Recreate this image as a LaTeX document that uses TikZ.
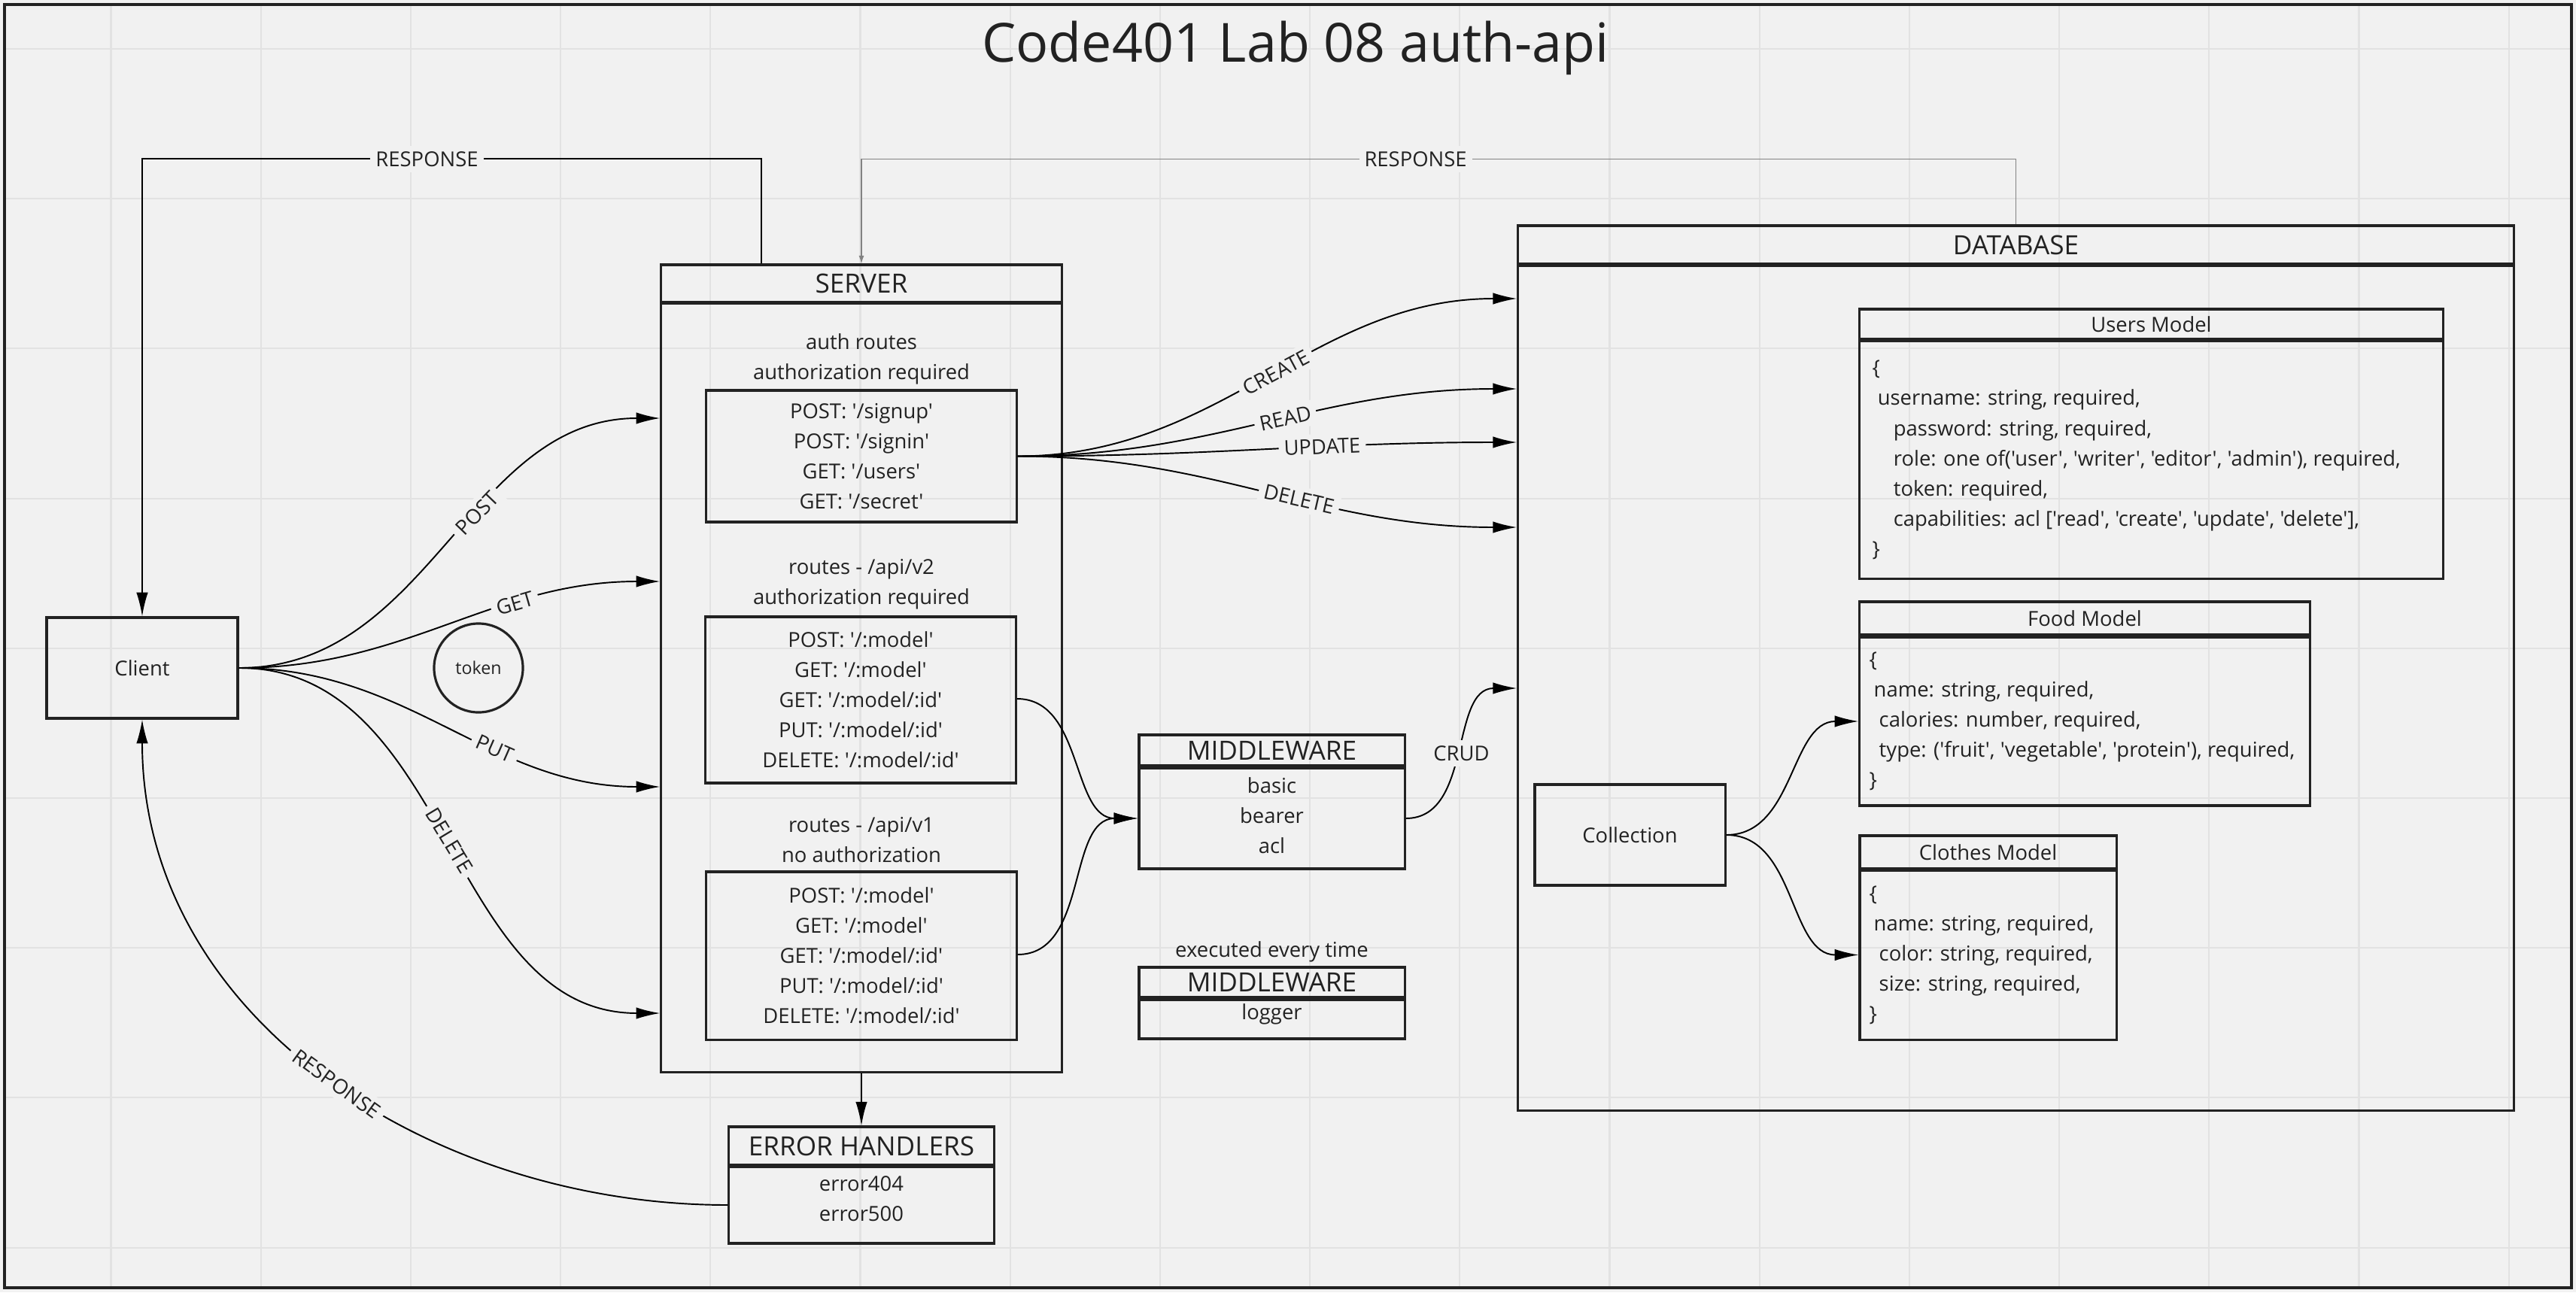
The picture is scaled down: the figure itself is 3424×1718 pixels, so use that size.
\documentclass[tikz,border=0pt]{standalone}
\usepackage{fontspec}
\newfontfamily\osans{Open Sans}
\usetikzlibrary{arrows.meta}
\definecolor{bg}{RGB}{241,241,241}
\definecolor{gridc}{RGB}{226,226,226}
\definecolor{ink}{RGB}{34,34,34}
\definecolor{faint}{RGB}{130,130,130}
\newcommand{\txtfont}{\osans\fontsize{7.8pt}{11.4pt}\selectfont}
\newcommand{\hdrfont}{\osans\fontsize{10pt}{12pt}\selectfont}
\newcommand{\ttlfont}{\osans\fontsize{20.4pt}{24pt}\selectfont}
\tikzset{
  box/.style={draw=ink, line width=0.9pt, inner sep=0pt, align=center, text=ink, font=\txtfont},
  hdr/.style={box, font=\hdrfont},
  txt/.style={font=\txtfont, align=center, inner sep=0pt, text=ink},
  code/.style={font=\txtfont, align=left, inner sep=0pt, anchor=west, text=ink},
  lbl/.style={font=\txtfont, fill=bg, inner sep=2pt, text=ink},
  link/.style={draw=black, line width=0.55pt, -{Latex[length=9pt,width=4.4pt]}},
  glink/.style={draw=faint, line width=0.35pt, -{Latex[length=3pt,width=2pt]}},
}

\begin{document}
\begin{tikzpicture}[x=0.01cm,y=-0.01cm]
\useasboundingbox (0,0) rectangle (3424,1718);

%Canvas and grid
\fill[bg] (0,0) rectangle (3424,1718);
\foreach \k in {0,...,16} \draw[gridc, line width=0.6pt] ({147.5+199.2*\k},6) -- ({147.5+199.2*\k},1712);
\foreach \k in {0,...,8} \draw[gridc, line width=0.6pt] (6,{65+199.2*\k}) -- (3418,{65+199.2*\k});
%Shape: Frame
\draw[ink, line width=1.1pt] (6,6) rectangle (3418,1712);

% Text Node
\node[font=\ttlfont, text=ink, anchor=base] (title) at (1722,82) {Code401 Lab 08 auth-api};

%Shape: Client
\node[box, minimum width=2.54cm, minimum height=1.34cm] (client) at (189,888) {Client};
%Shape: Circle
\node[box, circle, minimum size=1.18cm, font=\osans\fontsize{6.6pt}{8pt}\selectfont] (token) at (636,888) {token};

%Shape: Server
\node[hdr, minimum width=5.32cm, minimum height=0.50cm] (srvh) at (1145,377) {SERVER};
\node[box, minimum width=5.32cm, minimum height=10.21cm] (srv) at (1145,914.5) {};
% Text Node
\node[txt] (authlbl) at (1145,477) {auth routes\\authorization required};
\node[box, minimum width=4.12cm, minimum height=1.75cm] (auth) at (1145,606.5) {POST: '/signup'\\POST: '/signin'\\GET: '/users'\\GET: '/secret'};
% Text Node
\node[txt] (v2lbl) at (1145,777) {routes - /api/v2\\authorization required};
\node[box, minimum width=4.12cm, minimum height=2.21cm] (v2) at (1144,930.5) {POST: '/:model'\\GET: '/:model'\\GET: '/:model/:id'\\PUT: '/:model/:id'\\DELETE: '/:model/:id'};
% Text Node
\node[txt] (v1lbl) at (1145,1116.5) {routes - /api/v1\\no authorization};
\node[box, minimum width=4.12cm, minimum height=2.23cm] (v1) at (1145,1270.5) {POST: '/:model'\\GET: '/:model'\\GET: '/:model/:id'\\PUT: '/:model/:id'\\DELETE: '/:model/:id'};

%Shape: Error handlers
\node[hdr, minimum width=3.52cm, minimum height=0.51cm] (errh) at (1145,1523.5) {ERROR HANDLERS};
\node[box, minimum width=3.52cm, minimum height=1.02cm] (err) at (1145,1602) {};
\node[txt] (errtxt) at (1145,1594) {error404\\error500};

%Shape: Middleware
\node[hdr, minimum width=3.53cm, minimum height=0.41cm] (mwh) at (1690.5,997.5) {MIDDLEWARE};
\node[box, minimum width=3.53cm, minimum height=1.34cm] (mw) at (1690.5,1088) {};
\node[txt] (mwtxt) at (1690.5,1084) {basic\\bearer\\acl};
% Text Node
\node[txt] (lgnote) at (1690.5,1265) {executed every time};
\node[hdr, minimum width=3.53cm, minimum height=0.40cm] (lgh) at (1690.5,1306) {MIDDLEWARE};
\node[box, minimum width=3.53cm, minimum height=0.52cm] (lg) at (1690.5,1355) {};
\node[txt] (lgtxt) at (1690.5,1348) {logger};

%Shape: Database
\node[hdr, minimum width=13.23cm, minimum height=0.51cm] (dbh) at (2679.5,325.5) {DATABASE};
\node[box, minimum width=13.23cm, minimum height=11.22cm] (db) at (2679.5,915) {};

%Shape: Users Model
\node[hdr, font=\txtfont, minimum width=7.75cm, minimum height=0.40cm] (usrh) at (2859.5,431) {Users Model};
\node[box, minimum width=7.75cm, minimum height=3.15cm] (usr) at (2859.5,611.5) {};
\node[code] (usrtxt) at (2488,611.5) {\{\\\hspace*{2pt}username: string, required,\\\hspace*{8pt}password: string, required,\\\hspace*{8pt}role: one of('user', 'writer', 'editor', 'admin'), required,\\\hspace*{8pt}token: required,\\\hspace*{8pt}capabilities: acl ['read', 'create', 'update', 'delete'],\\\}};

%Shape: Food Model
\node[hdr, font=\txtfont, minimum width=5.98cm, minimum height=0.44cm] (fdh) at (2771,822) {Food Model};
\node[box, minimum width=5.98cm, minimum height=2.24cm] (fd) at (2771,959) {};
\node[code] (fdtxt) at (2484,959) {\{\\\hspace*{1.7pt}name: string, required,\\\hspace*{3.7pt}calories: number, required,\\\hspace*{3.7pt}type: ('fruit', 'vegetable', 'protein'), required,\\\}};

%Shape: Clothes Model
\node[hdr, font=\txtfont, minimum width=3.41cm, minimum height=0.44cm] (clh) at (2642.5,1133) {Clothes Model};
\node[box, minimum width=3.41cm, minimum height=2.25cm] (cl) at (2642.5,1269.5) {};
\node[code] (cltxt) at (2484,1270) {\{\\\hspace*{1.7pt}name: string, required,\\\hspace*{3.7pt}color: string, required,\\\hspace*{3.7pt}size: string, required,\\\}};

%Shape: Collection
\node[box, minimum width=2.53cm, minimum height=1.34cm] (coll) at (2166.5,1110) {Collection};

%Curve Lines: client requests
\draw[link] (client.east) to[out=0,in=180] node[lbl,sloped,pos=.58]{POST} (srv.west |- 0,556);
\draw[link] (client.east) to[out=0,in=180] node[lbl,sloped,pos=.67]{GET} (srv.west |- 0,773);
\draw[link] (client.east) to[out=0,in=180] node[lbl,sloped,pos=.62]{PUT} (srv.west |- 0,1046);
\draw[link] (client.east) to[out=0,in=180] node[lbl,sloped,pos=.5]{DELETE} (srv.west |- 0,1347);

%Straight Lines: responses
\draw[link] ([xshift=-1.33cm]srvh.north) -- ++(0,-139) -| node[lbl,pos=.27]{RESPONSE} (client.north);
\draw[glink] (dbh.north) -- ++(0,-87) -| node[lbl,pos=.26]{RESPONSE} (srvh.north);
\draw[link] (srv.south) -- (errh.north);
%Curve Lines
\draw[link] (err.west) to[out=180,in=270] node[lbl,sloped,pos=.48]{RESPONSE} (client.south);

%Curve Lines: database calls
\draw[link] (auth.east) to[out=0,in=180] node[lbl,sloped,pos=.52]{CREATE} (db.west |- 0,397);
\draw[link] (auth.east) to[out=0,in=180] node[lbl,sloped,pos=.54]{READ} (db.west |- 0,517);
\draw[link] (auth.east) to[out=0,in=180] node[lbl,sloped,pos=.62]{UPDATE} (db.west |- 0,588);
\draw[link] (auth.east) to[out=0,in=180] node[lbl,sloped,pos=.57]{DELETE} (db.west |- 0,701);

%Curve Lines: middleware
\draw[link] (v2.east |- 0,929) to[out=0,in=180] (mw.west);
\draw[link] (v1.east |- 0,1269) to[out=0,in=180] (mw.west);
\draw[link] (mw.east) to[out=0,in=180] node[lbl,pos=.5]{CRUD} (db.west |- 0,915);

%Curve Lines: collection
\draw[link] (coll.east) to[out=0,in=180] (fd.west);
\draw[link] (coll.east) to[out=0,in=180] (cl.west);

\end{tikzpicture}
\end{document}
